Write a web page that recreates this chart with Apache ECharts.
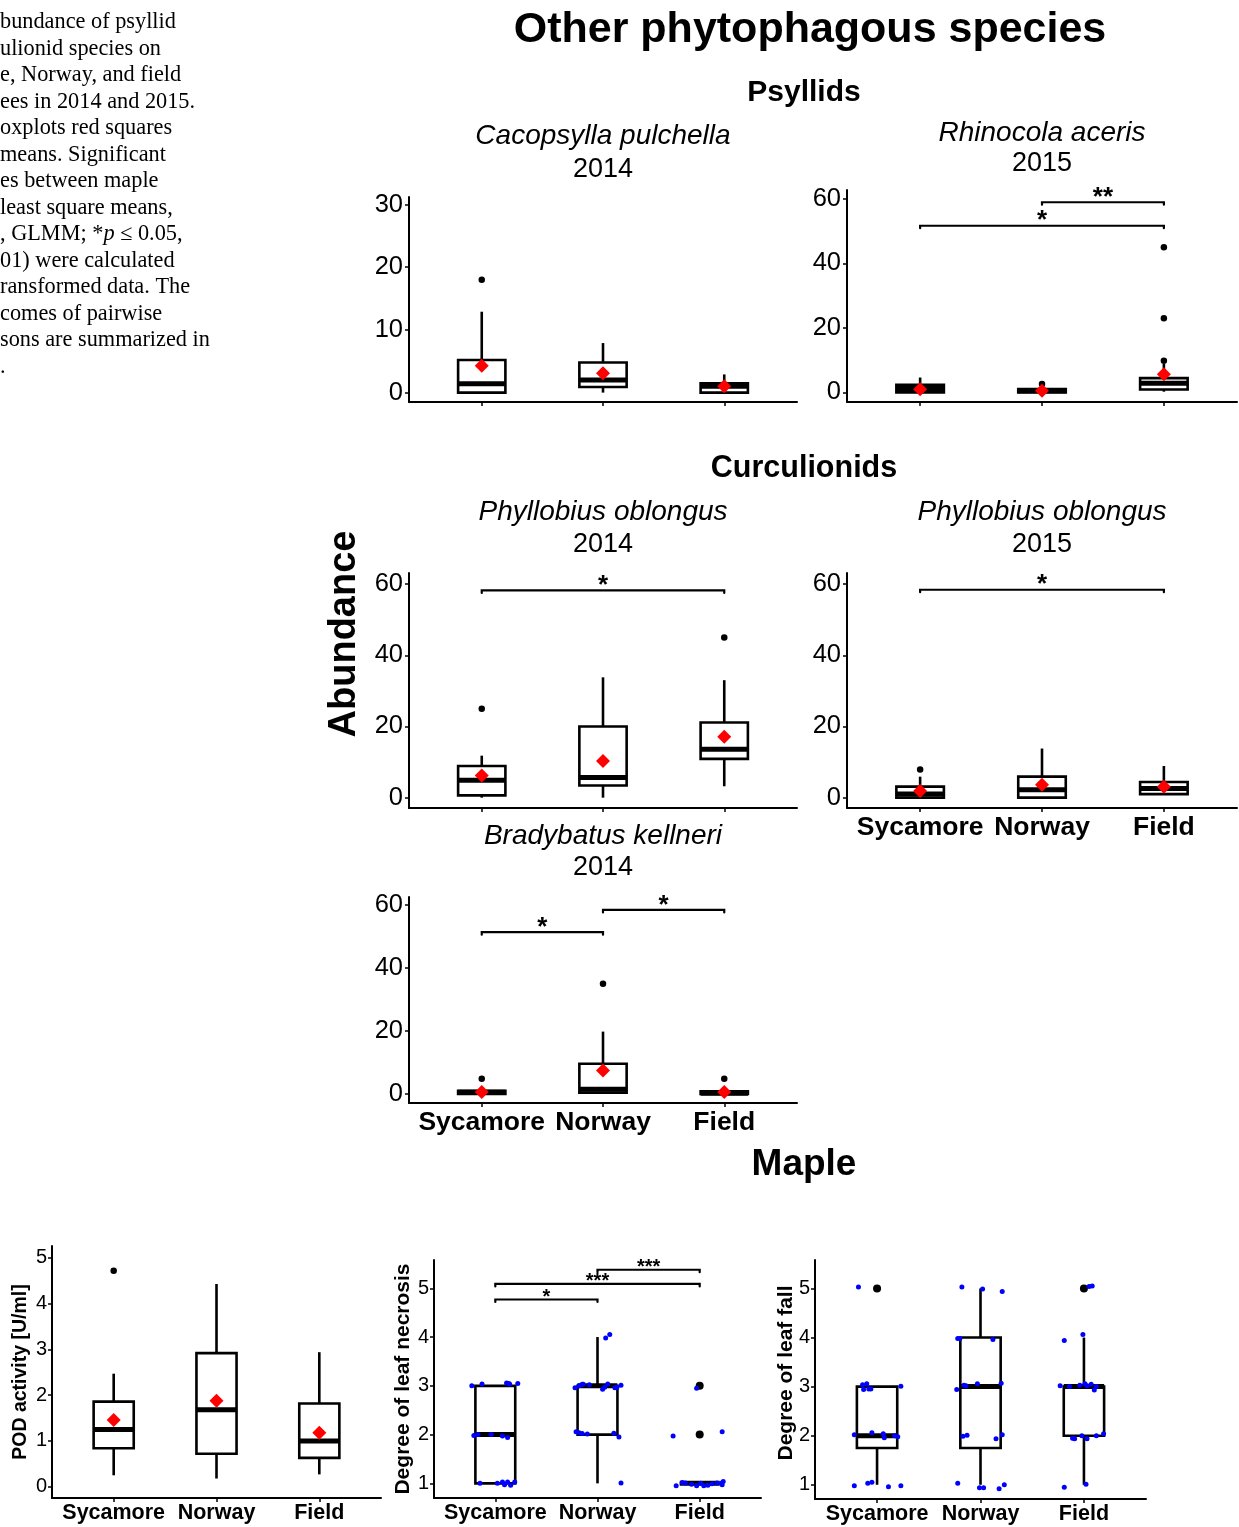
<!DOCTYPE html>
<html><head><meta charset="utf-8">
<script src="https://cdn.jsdelivr.net/npm/echarts@6/dist/echarts.min.js"></script>
<style>html,body{margin:0;padding:0;background:#fff}#c{width:1239px;height:1527px}</style>
</head><body><div id="c"></div>
<script>
// ---------------- DATA ----------------
const categories = ['Sycamore', 'Norway', 'Field'];
const groupX = [1, 2, 3];

// Box stats per category: [min, Q1, median, Q3, max]
const cacopsyllaBoxes = [[0, 0, 1.4, 5.2, 12.9], [0, 0.9, 2.0, 4.8, 7.9], [0, 0, 1.0, 1.5, 2.9]];
const cacopsyllaMeans = [4.3, 3.1, 1.0];
const cacopsyllaOutliers = [[1, 18]];

const rhinocolaBoxes = [[0, 0, 1.2, 2.3, 4.6], [0, 0, 0.5, 1.0, 1.5], [0.2, 0.9, 2.8, 4.4, 8.8]];
const rhinocolaMeans = [0.95, 0.5, 5.6];
const rhinocolaOutliers = [[2, 2.6], [3, 9.8], [3, 23], [3, 45]];
const rhinocolaSig = [[1, 3, 51.7, '*'], [2, 3, 59, '**']];

const phyllo14Boxes = [[0, 0.65, 4.9, 8.9, 11.8], [0, 3.4, 5.7, 20, 33.8], [3.2, 10.9, 13.6, 21.1, 33]];
const phyllo14Means = [6.2, 10.3, 17.1];
const phyllo14Outliers = [[1, 25], [3, 45]];
const phyllo14Sig = [[1, 3, 58.2, '*']];

const phyllo15Boxes = [[0, 0, 1.0, 3.1, 5.9], [0, 0, 2.2, 5.9, 13.8], [1, 1, 2.6, 4.4, 8.9]];
const phyllo15Means = [1.9, 3.6, 3.1];
const phyllo15Outliers = [[1, 7.9]];
const phyllo15Sig = [[1, 3, 58.4, '*']];

const bradyBoxes = [[0, 0, 0.5, 1.0, 2.0], [0, 0.4, 1.5, 9.6, 19.8], [0, 0, 0.2, 0.8, 1.0]];
const bradyMeans = [0.6, 7.4, 0.6];
const bradyOutliers = [[1, 4.8], [2, 35], [3, 4.8]];
const bradySig = [[1, 2, 51.4, '*'], [2, 3, 58.5, '*']];

const podBoxes = [[0.25, 0.84, 1.25, 1.86, 2.47], [0.18, 0.72, 1.68, 2.92, 4.43], [0.27, 0.63, 1.0, 1.82, 2.94]];
const podMeans = [1.46, 1.88, 1.18];
const podOutliers = [[1, 4.72]];

const necrosisBoxes = [[1, 1, 2, 3, 3], [1, 2, 3, 3, 4], [1, 1, 1, 1, 1]];
const necrosisOutliers = [[3, 2], [3, 3]];
const necrosisSig = [[1, 2, 4.77, '*'], [1, 3, 5.09, '***'], [2, 3, 5.38, '***']];
const necrosisPoints = [
  [0.77,3.0],[0.87,3.04],[1.11,3.06],[1.13,3.05],[1.14,3.04],[1.22,3.05],
  [0.79,1.98],[0.83,2.0],[0.96,2.0],[1.07,1.97],[1.12,1.94],
  [0.85,1.0],[1.02,1.0],[1.07,1.03],[1.09,0.97],[1.12,1.03],[1.15,0.96],[1.19,1.03],
  [2.08,3.98],[2.12,4.05],
  [1.78,2.96],[1.82,3.0],[1.85,3.03],[1.86,3.03],[1.92,3.02],[2.05,2.93],[2.07,2.97],[2.10,3.04],[2.17,2.96],[2.19,2.97],[2.23,3.01],
  [1.79,2.06],[1.82,2.04],[1.85,2.02],[1.90,2.01],[2.16,2.03],[2.21,1.95],
  [2.23,1.01],
  [2.97,2.95],[2.74,1.97],[3.22,2.06],
  [2.77,0.95],[2.83,1.02],[2.86,1.01],[2.92,0.98],[2.97,0.95],[3.01,1.0],[3.04,0.95],[3.08,0.96],[3.12,0.99],[3.17,1.01],[3.21,1.0],[3.23,1.04],[3.22,0.97]
];

const leafFallBoxes = [[1, 1.75, 2, 3, 3], [1, 1.75, 3, 4, 5], [1, 2, 3, 3, 4]];
const leafFallOutliers = [[1, 5], [3, 5]];
const leafFallPoints = [
  [0.82,5.03],[0.86,3.04],[0.90,3.06],[0.87,2.94],[0.92,2.95],[0.94,2.95],[1.23,3.01],[0.78,2.02],[0.95,2.06],[1.06,2.04],[1.07,1.96],[1.17,2.0],[1.20,1.98],[0.78,0.98],[0.91,1.03],[0.95,1.05],[1.11,0.96],[1.23,0.98],
  [1.82,5.03],[2.02,4.99],[2.21,4.94],[1.78,3.98],[1.80,3.98],[2.12,3.96],[1.77,2.94],[1.84,3.03],[1.86,3.02],[1.97,3.06],[2.20,3.07],[1.83,1.99],[1.87,2.01],[2.15,1.94],[2.21,2.02],[1.78,1.03],[1.99,0.94],[2.03,0.94],[2.18,0.92],[2.23,1.0],
  [3.05,5.04],[3.08,5.05],[2.81,3.94],[2.99,4.06],[2.77,3.02],[2.86,3.0],[2.96,3.03],[3.01,3.06],[3.03,3.02],[3.07,3.05],[3.10,2.93],[3.12,3.0],[2.89,1.95],[2.91,1.94],[2.98,2.0],[3.03,1.94],[3.12,2.0],[3.19,2.04],[2.81,0.95],[3.02,1.01]
];

const ticks30 = [0, 10, 20, 30];
const ticks60 = [0, 20, 40, 60];
const ticksPod = [0, 1, 2, 3, 4, 5];
const ticksDegree = [1, 2, 3, 4, 5];

const captionLines = [
  'bundance of psyllid', 'ulionid species on', 'e, Norway, and field', 'ees in 2014 and 2015.',
  'oxplots red squares', 'means. Significant', 'es between maple', 'least square means,',
  null, '01) were calculated', 'ransformed data. The', 'comes of pairwise', 'sons are summarized in', '.'
];

// ---------------- BUILD ----------------
const FONT = '"Liberation Sans", Arial, sans-serif';
const grids = [], xAxes = [], yAxes = [], series = [];

function boxRender(params, api) {
  const x = api.value(0);
  const lo = api.coord([x, api.value(1)]);
  const q1 = api.coord([x, api.value(2)]);
  const md = api.coord([x, api.value(3)]);
  const q3 = api.coord([x, api.value(4)]);
  const hi = api.coord([x, api.value(5)]);
  const hw = api.size([0.195, 0])[0];
  const cx = lo[0];
  const ls = {stroke: '#000', lineWidth: 2.6};
  return {type: 'group', children: [
    {type: 'line', shape: {x1: cx, y1: hi[1], x2: cx, y2: q3[1]}, style: ls},
    {type: 'line', shape: {x1: cx, y1: q1[1], x2: cx, y2: lo[1]}, style: ls},
    {type: 'rect', shape: {x: cx - hw, y: q3[1], width: 2 * hw, height: q1[1] - q3[1]}, style: {fill: '#fff', stroke: '#000', lineWidth: 2.6}},
    {type: 'line', shape: {x1: cx - hw, y1: md[1], x2: cx + hw, y2: md[1]}, style: {stroke: '#000', lineWidth: 5}}
  ]};
}

const sigLabels = {};
function makeSigRender(tipPx, starFont, starLift) {
  return function (params, api) {
    const a = api.value(0), b = api.value(1), y = api.value(2);
    const pa = api.coord([a, y]);
    const pb = api.coord([b, y]);
    const star = sigLabels[params.seriesId][params.dataIndex];
    return {type: 'group', children: [
      {type: 'polyline', shape: {points: [[pa[0], pa[1] + tipPx], [pa[0], pa[1]], [pb[0], pb[1]], [pb[0], pb[1] + tipPx]]},
        style: {stroke: '#000', lineWidth: 2.2, fill: null, lineJoin: 'miter', lineCap: 'round'}},
      {type: 'text', style: {text: star, x: (pa[0] + pb[0]) / 2, y: pa[1] - starLift, font: starFont,
        fill: '#000', textAlign: 'center', textVerticalAlign: 'middle'}}
    ]};
  };
}

function addPanel(p) {
  const i = grids.length;
  grids.push({left: p.left, top: p.top, width: p.width, height: p.height});
  xAxes.push({
    gridIndex: i, type: 'value', min: 0.4, max: 3.6,
    axisLine: {show: true, onZero: false, lineStyle: {color: '#000', width: 2}},
    axisTick: {show: true, customValues: groupX, length: 4, lineStyle: {color: '#000', width: 1.5}},
    axisLabel: {show: !!p.xLabels, customValues: groupX, formatter: v => categories[Math.round(v) - 1],
      color: '#000', fontFamily: FONT, fontWeight: 'bold', fontSize: p.xLabelSize || 26.5, margin: p.xLabelMargin || 6},
    splitLine: {show: false}
  });
  yAxes.push({
    gridIndex: i, type: 'value', min: p.ymin, max: p.ymax,
    axisLine: {show: true, onZero: false, lineStyle: {color: '#000', width: 2}},
    axisTick: {show: true, customValues: p.ticks, length: 4, lineStyle: {color: '#000', width: 1.5}},
    axisLabel: {customValues: p.ticks, color: '#000', fontFamily: FONT, fontSize: p.yLabelSize || 25.5, margin: p.yLabelMargin || 6},
    splitLine: {show: false}
  });
  series.push({type: 'custom', xAxisIndex: i, yAxisIndex: i, renderItem: boxRender, silent: true, z: 2,
    data: p.boxes.map((b, k) => [groupX[k]].concat(b)), encode: {x: 0, y: [1, 2, 3, 4, 5]}});
  if (p.outliers) series.push({type: 'scatter', xAxisIndex: i, yAxisIndex: i, data: p.outliers, symbolSize: p.outSize || 6.5,
    itemStyle: {color: '#000', opacity: 1}, silent: true, z: 3});
  if (p.points) series.push({type: 'scatter', xAxisIndex: i, yAxisIndex: i, data: p.points, symbolSize: 5,
    itemStyle: {color: '#0000FF', opacity: 1}, silent: true, z: 4});
  if (p.means) series.push({type: 'scatter', xAxisIndex: i, yAxisIndex: i, symbol: 'diamond',
    data: p.means.map((m, k) => [groupX[k], m]), symbolSize: 14, itemStyle: {color: '#FF0000', opacity: 1}, silent: true, z: 5});
  if (p.sig) {
    const id = 'sig' + i;
    sigLabels[id] = p.sig.map(s => s[3]);
    series.push({type: 'custom', id: id, xAxisIndex: i, yAxisIndex: i, silent: true, z: 6,
      renderItem: makeSigRender(p.tipPx, p.starFont, p.starLift),
      data: p.sig.map(s => [s[0], s[1], s[2]]), encode: {x: [0, 1], y: 2}});
  }
}

addPanel({left: 409, top: 197, width: 388, height: 205, ymin: -1.5, ymax: 31.2, ticks: ticks30,
  boxes: cacopsyllaBoxes, means: cacopsyllaMeans, outliers: cacopsyllaOutliers});
const topStar = {tipPx: 2.5, starFont: 'bold 26px ' + FONT, starLift: 4.5};
addPanel(Object.assign({left: 847, top: 190, width: 390, height: 212, ymin: -3, ymax: 62.8, ticks: ticks60,
  boxes: rhinocolaBoxes, means: rhinocolaMeans, outliers: rhinocolaOutliers, sig: rhinocolaSig}, topStar));
addPanel(Object.assign({left: 409, top: 573, width: 388, height: 235, ymin: -2.9, ymax: 63.1, ticks: ticks60,
  boxes: phyllo14Boxes, means: phyllo14Means, outliers: phyllo14Outliers, sig: phyllo14Sig}, topStar));
addPanel(Object.assign({left: 847, top: 573, width: 390, height: 235, ymin: -2.9, ymax: 63.1, ticks: ticks60, xLabels: true,
  boxes: phyllo15Boxes, means: phyllo15Means, outliers: phyllo15Outliers, sig: phyllo15Sig}, topStar));
addPanel(Object.assign({left: 409, top: 897, width: 388, height: 206, ymin: -2.9, ymax: 62.6, ticks: ticks60, xLabels: true,
  boxes: bradyBoxes, means: bradyMeans, outliers: bradyOutliers, sig: bradySig}, topStar));
addPanel({left: 52, top: 1246, width: 329, height: 252, ymin: -0.246, ymax: 5.26, ticks: ticksPod, xLabels: true,
  xLabelSize: 21.5, xLabelMargin: 4, yLabelSize: 20, yLabelMargin: 5,
  boxes: podBoxes, means: podMeans, outliers: podOutliers});
addPanel({left: 434, top: 1260, width: 327, height: 238, ymin: 0.70, ymax: 5.58, ticks: ticksDegree, xLabels: true,
  xLabelSize: 21.5, xLabelMargin: 4, yLabelSize: 20, yLabelMargin: 5,
  boxes: necrosisBoxes, outliers: necrosisOutliers, outSize: 8, points: necrosisPoints, sig: necrosisSig,
  tipPx: 2.5, starFont: 'bold 20px ' + FONT, starLift: 2});
addPanel({left: 815, top: 1260, width: 331, height: 239, ymin: 0.71, ymax: 5.58, ticks: ticksDegree, xLabels: true,
  xLabelSize: 21.5, xLabelMargin: 4, yLabelSize: 20, yLabelMargin: 5,
  boxes: leafFallBoxes, outliers: leafFallOutliers, outSize: 8, points: leafFallPoints});

// ---------------- TEXT ----------------
function txt(text, x, y, font, opts) {
  opts = opts || {};
  return {type: 'text', x: x, y: y, rotation: opts.rotation || 0, silent: true, z: 10,
    style: {text: text, font: font, fill: '#000', textAlign: opts.align || 'center', textVerticalAlign: 'middle', rich: opts.rich}};
}
const graphics = [];
const capFont = '22.3px "Liberation Serif", "Times New Roman", serif';
captionLines.forEach((line, k) => {
  const y = 22.5 + k * 26.5;
  if (line === null) {
    graphics.push(txt('{n|, GLMM; *}{i|p}{n| ≤ 0.05,}', 0, y, capFont, {align: 'left', rich: {
      n: {font: capFont, fill: '#000'},
      i: {font: 'italic 22.3px "Liberation Serif", "Times New Roman", serif', fill: '#000'}}}));
  } else {
    graphics.push(txt(line, 0, y, capFont, {align: 'left'}));
  }
});
graphics.push(txt('Other phytophagous species', 810, 30, 'bold 43px ' + FONT));
graphics.push(txt('Psyllids', 804, 93, 'bold 30px ' + FONT));
graphics.push(txt('Curculionids', 804, 469, 'bold 30.5px ' + FONT));
graphics.push(txt('Maple', 804, 1165, 'bold 37px ' + FONT));
const itF = 'italic 28px ' + FONT, yrF = '27px ' + FONT;
graphics.push(txt('Cacopsylla pulchella', 603, 136, itF));
graphics.push(txt('2014', 603, 170, yrF));
graphics.push(txt('Rhinocola aceris', 1042, 133, itF));
graphics.push(txt('2015', 1042, 164, yrF));
graphics.push(txt('Phyllobius oblongus', 603, 512, itF));
graphics.push(txt('2014', 603, 545, yrF));
graphics.push(txt('Phyllobius oblongus', 1042, 512, itF));
graphics.push(txt('2015', 1042, 545, yrF));
graphics.push(txt('Bradybatus kellneri', 603, 836, itF));
graphics.push(txt('2014', 603, 868, yrF));
graphics.push(txt('Abundance', 345, 634, 'bold 38px ' + FONT, {rotation: Math.PI / 2}));
graphics.push(txt('POD activity [U/ml]', 21, 1372, 'bold 19.5px ' + FONT, {rotation: Math.PI / 2}));
graphics.push(txt('Degree of leaf necrosis', 403, 1379, 'bold 21px ' + FONT, {rotation: Math.PI / 2}));
graphics.push(txt('Degree of leaf fall', 786, 1373, 'bold 21px ' + FONT, {rotation: Math.PI / 2}));

const chart = echarts.init(document.getElementById('c'), null, {renderer: 'canvas'});
chart.setOption({
  animation: false,
  backgroundColor: '#fff',
  grid: grids, xAxis: xAxes, yAxis: yAxes, series: series,
  graphic: graphics
});
</script>
</body></html>
